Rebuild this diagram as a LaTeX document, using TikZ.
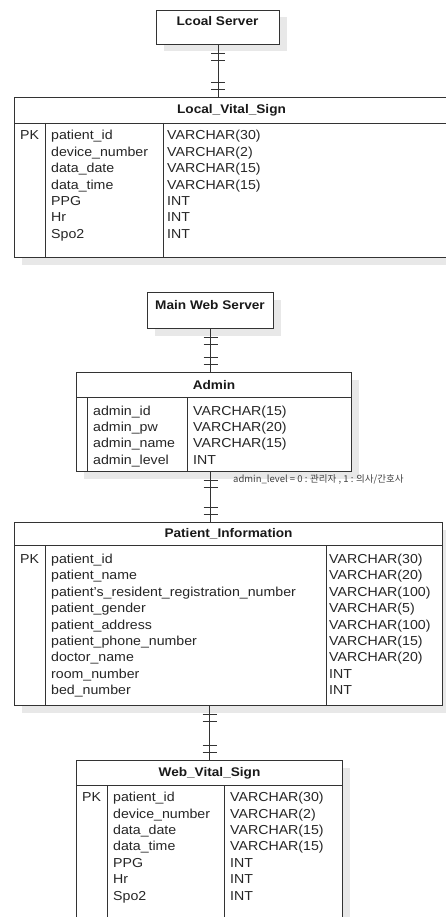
\documentclass[tikz,border=0pt]{standalone}
\usepackage{fontspec}
\setmainfont{Liberation Sans}[FakeStretch=1.09]
\newfontfamily\krfont{Noto Sans CJK KR}
\usetikzlibrary{shadows,decorations.markings}
\tikzset{
  box/.style={draw=black!80, line width=1pt, fill=white, anchor=north west, inner sep=0pt,
    drop shadow={shadow xshift=7pt, shadow yshift=-7pt, fill=black!9, opacity=1}},
  hdr/.style={draw=black!80, line width=1pt, anchor=north west, inner sep=0pt,
    font=\fontsize{12.5}{15}\selectfont\bfseries, text=black!90},
  ttl/.style={anchor=base, inner sep=0pt, font=\fontsize{12.5}{15}\selectfont\bfseries, text=black!90},
  fld/.style={anchor=base west, inner sep=0pt, font=\fontsize{13}{16}\selectfont, text=black!85},
  pk/.style={anchor=base, inner sep=0pt, font=\fontsize{13}{16}\selectfont, text=black!85},
  sep/.style={draw=black!80, line width=1pt},
  onebar/.style={decoration={markings,
    mark=at position #1 with {\draw[black!80, line width=0.9pt] (0,-7pt) -- (0,7pt);}}},
  erone/.style={draw=black!80, line width=0.9pt,
    postaction={decorate, onebar=8pt}, postaction={decorate, onebar=15pt},
    postaction={decorate, onebar=-8pt}, postaction={decorate, onebar=-15pt}},
  note/.style={anchor=base west, inner sep=0pt, font=\krfont\fontsize{9.5}{11}\selectfont, text=black!75}
}
\begin{document}
\begin{tikzpicture}[x=1pt, y=-1pt]
  \useasboundingbox (0,0) rectangle (446,917);
  \clip (0,0) rectangle (446,917);

  % local side
  \node[box, minimum width=123pt, minimum height=34pt] (lserver) at (156,10) {};
  \node[ttl] (lserver-t) at (217.5,26) {Lcoal Server};

  \node[box, minimum width=434pt, minimum height=160pt] (lvs) at (14,97) {};
  \node[hdr, minimum width=434pt, minimum height=26pt] (lvs-h) at (14,97) {Local\_Vital\_Sign};
  \draw[sep] (45,123) -- (45,257);
  \draw[sep] (163,123) -- (163,257);
  \node[pk] (lvs-pk) at (29.5,140) {PK};
  \foreach \f/\t [count=\i] in {patient\_id/VARCHAR(30), device\_number/VARCHAR(2),
      data\_date/VARCHAR(15), data\_time/VARCHAR(15), PPG/INT, Hr/INT, Spo2/INT} {
    \node[fld] (lvs-f\i) at (51,{140+16.4*(\i-1)}) {\f};
    \node[fld] (lvs-t\i) at (167,{140+16.4*(\i-1)}) {\t};
  }
  \draw[erone] (lserver.south) -- (lserver.south |- lvs.north);

  % web side
  \node[box, minimum width=126pt, minimum height=36pt] (mws) at (147,292) {};
  \node[ttl] (mws-t) at (210,309) {Main Web Server};

  \node[box, minimum width=275pt, minimum height=99pt] (admin) at (76,372) {};
  \node[hdr, minimum width=275pt, minimum height=25pt] (admin-h) at (76,372) {Admin};
  \draw[sep] (87,397) -- (87,471);
  \draw[sep] (187,397) -- (187,471);
  \foreach \f/\t [count=\i] in {admin\_id/VARCHAR(15), admin\_pw/VARCHAR(20),
      admin\_name/VARCHAR(15), admin\_level/INT} {
    \node[fld] (admin-f\i) at (93,{415+16.4*(\i-1)}) {\f};
    \node[fld] (admin-t\i) at (193,{415+16.4*(\i-1)}) {\t};
  }
  \node[note] (lvlnote) at (233,482.5) {admin\_level = 0 : 관리자 , 1 : 의사/간호사};
  \draw[erone] (mws.south) -- (mws.south |- admin.north);

  \node[box, minimum width=428pt, minimum height=183pt] (pinfo) at (14,522) {};
  \node[hdr, minimum width=428pt, minimum height=23pt] (pinfo-h) at (14,522) {Patient\_Information};
  \draw[sep] (45,545) -- (45,705);
  \draw[sep] (326,545) -- (326,705);
  \node[pk] (pinfo-pk) at (29.5,563.5) {PK};
  \foreach \f/\t [count=\i] in {patient\_id/VARCHAR(30), patient\_name/VARCHAR(20),
      patient's\_resident\_registration\_number/VARCHAR(100), patient\_gender/VARCHAR(5),
      patient\_address/VARCHAR(100), patient\_phone\_number/VARCHAR(15),
      doctor\_name/VARCHAR(20), room\_number/INT, bed\_number/INT} {
    \node[fld] (pinfo-f\i) at (51,{563.5+16.4*(\i-1)}) {\f};
    \node[fld] (pinfo-t\i) at (329,{563.5+16.4*(\i-1)}) {\t};
  }
  \draw[erone] (admin.south -| mws.south) -- (mws.south |- pinfo.north);

  \node[box, minimum width=266pt, minimum height=170pt] (wvs) at (76,760) {};
  \node[hdr, minimum width=266pt, minimum height=25pt] (wvs-h) at (76,760) {Web\_Vital\_Sign};
  \draw[sep] (107,785) -- (107,930);
  \draw[sep] (224,785) -- (224,930);
  \node[pk] (wvs-pk) at (91.5,801.7) {PK};
  \foreach \f/\t [count=\i] in {patient\_id/VARCHAR(30), device\_number/VARCHAR(2),
      data\_date/VARCHAR(15), data\_time/VARCHAR(15), PPG/INT, Hr/INT, Spo2/INT} {
    \node[fld] (wvs-f\i) at (113,{801.7+16.4*(\i-1)}) {\f};
    \node[fld] (wvs-t\i) at (230,{801.7+16.4*(\i-1)}) {\t};
  }
  \draw[erone] (wvs.north |- pinfo.south) -- (wvs.north);
\end{tikzpicture}
\end{document}
